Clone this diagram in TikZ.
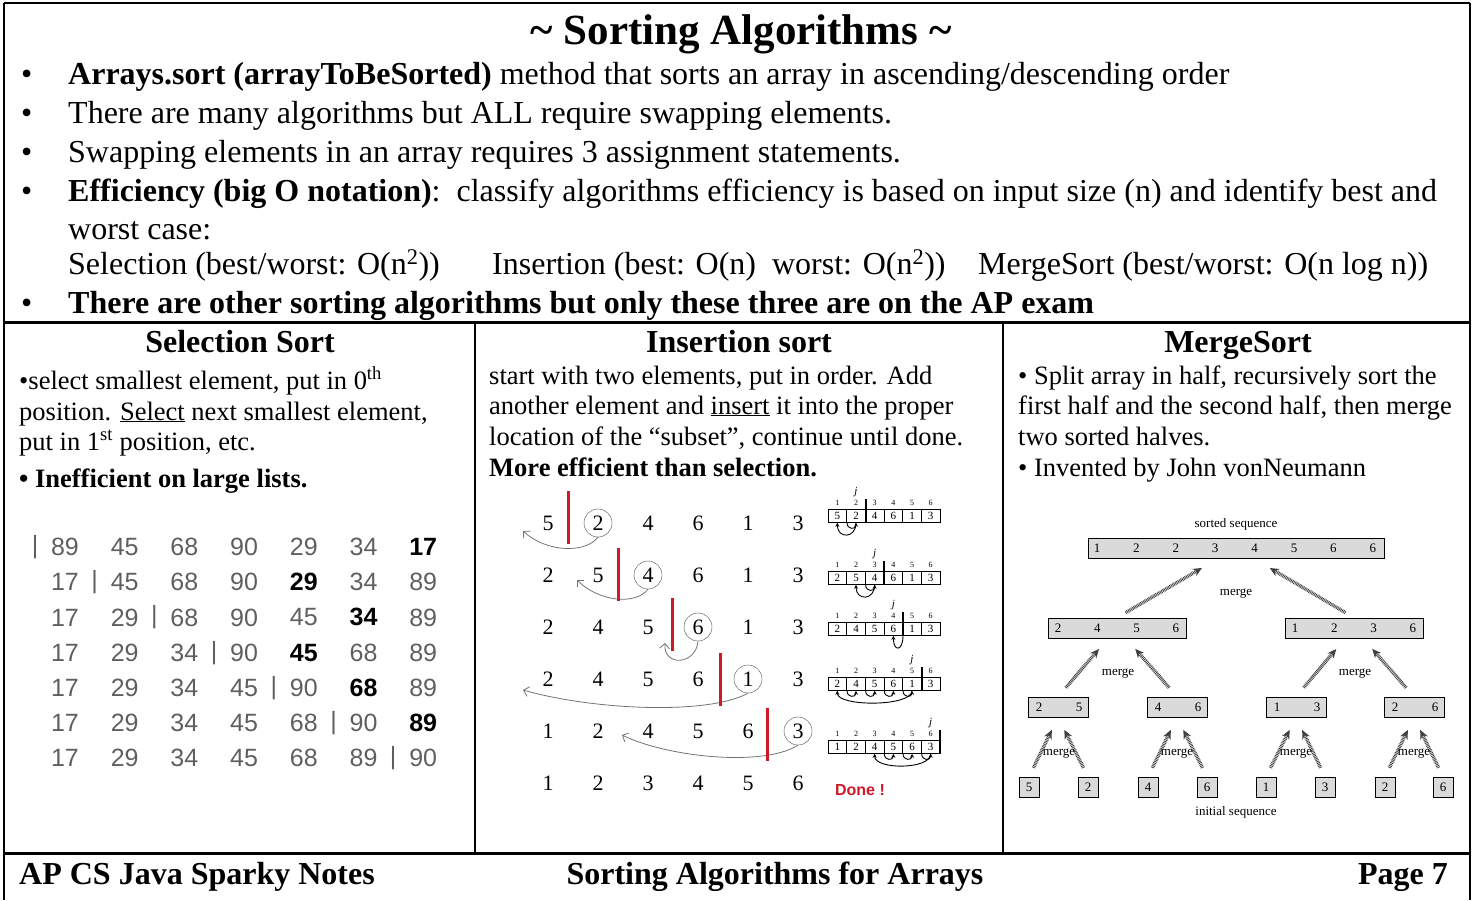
\documentclass[tikz,border=0pt]{standalone}
\usepackage{fontspec}
\setmainfont{Liberation Serif}
\setsansfont{Liberation Sans}
\usetikzlibrary{arrows.meta}

\definecolor{barred}{RGB}{205,25,40}
\definecolor{cellgray}{RGB}{218,218,218}
\definecolor{numgray}{RGB}{95,95,95}

\newcommand{\bigsize}{\fontsize{32}{38}\selectfont}
\newcommand{\colsize}{\fontsize{26.5}{31}\selectfont}

\begin{document}
\begin{tikzpicture}[x=1pt, y=-1pt,
	bodytext/.style={anchor=base west, inner sep=0pt, font=\bigsize},
	coltext/.style={anchor=base west, inner sep=0pt, font=\colsize},
	head/.style={anchor=base, inner sep=0pt, font=\bigsize\bfseries},
	selnum/.style={inner sep=0pt, text=numgray, font=\sffamily\fontsize{25}{25}\selectfont},
	insnum/.style={inner sep=0pt, font=\fontsize{22}{22}\selectfont},
	ring/.style={draw=black!70, circle, minimum size=28pt, inner sep=0pt},
	redbar/.style={barred, line width=3pt},
	insarrow/.style={black!55, line width=0.8pt, -{Straight Barb[length=5pt]}},
	cell/.style={draw, line width=0.6pt, minimum width=18.67pt, minimum height=13pt, inner sep=0pt, font=\fontsize{11}{11}\selectfont},
	idx/.style={inner sep=0pt, font=\fontsize{8}{8}\selectfont},
	cellarrow/.style={line width=0.9pt, -{Stealth[length=4pt, width=4pt]}},
	mbox/.style={draw, fill=cellgray, line width=0.6pt, minimum height=20pt, inner sep=0pt, font=\fontsize{13}{13}\selectfont},
	mnum/.style={inner sep=0pt, font=\fontsize{13}{13}\selectfont},
	mlabel/.style={inner sep=0pt, font=\fontsize{13}{13}\selectfont},
	marrow/.style={black!75, line width=3.5pt, dash pattern=on 0.8pt off 0.8pt, -{Stealth[length=9pt, width=8pt]}},
]
\useasboundingbox (0,0) rectangle (1473,900);

% frame and column rules
\draw[line width=2pt] (4,3) -- (1470,3);
\draw[line width=1.5pt] (4,3) -- (4,900) (1470,3) -- (1470,900);
\draw[line width=3pt] (4,322) -- (1470,322) (4,853) -- (1470,853);
\draw[line width=1.2pt] (475,322) -- (475,853) (1003,322) -- (1003,853);

% title and bullet list
\node[anchor=base, inner sep=0pt, font=\fontsize{43}{43}\selectfont\bfseries] (title) at (741,44) {\textasciitilde\ Sorting Algorithms \textasciitilde};
\foreach \y [count=\i] in {84,123,162,201,313}
	\node[bodytext] (dot\i) at (21,\y) {\textbullet};
\node[bodytext] (l1) at (68,84) {\textbf{Arrays.sort (arrayToBeSorted)} method that sorts an array in ascending/descending order};
\node[bodytext] (l2) at (68,123) {There are many algorithms but ALL require swapping elements.};
\node[bodytext] (l3) at (68,162) {Swapping elements in an array requires 3 assignment statements.};
\node[bodytext] (l4) at (68,201) {\textbf{Efficiency (big O notation)}:\ \ classify algorithms efficiency is based on input size (n) and identify best and};
\node[bodytext] (l5) at (68,239) {worst case:};
\node[bodytext] (eff1) at (68,274) {Selection (best/worst: O(n\textsuperscript{2}))};
\node[bodytext] (eff2) at (492,274) {Insertion (best: O(n)\ \ worst: O(n\textsuperscript{2}))};
\node[bodytext] (eff3) at (978,274) {MergeSort (best/worst: O(n log n))};
\node[bodytext] (l6) at (68,313) {\textbf{There are other sorting algorithms but only these three are on the AP exam}};

% column heads
\node[head] (selhead) at (240,352) {Selection Sort};
\node[head] (inshead) at (739,352) {Insertion sort};
\node[head] (mrghead) at (1238,352) {MergeSort};

\node[coltext] (sel1) at (19,389) {\textbullet select smallest element, put in 0\textsuperscript{th}};
\node[coltext] (sel2) at (19,420) {position. \underline{Select} next smallest element,};
\node[coltext] (sel3) at (19,450) {put in 1\textsuperscript{st} position, etc.};
\node[coltext] (sel4) at (19,487) {\textbf{\textbullet\ Inefficient on large lists.}};

\node[coltext] (ins1) at (489,384) {start with two elements, put in order. Add};
\node[coltext] (ins2) at (489,414) {another element and \underline{insert} it into the proper};
\node[coltext] (ins3) at (489,445) {location of the ``subset'', continue until done.};
\node[coltext] (ins4) at (489,476) {\textbf{More efficient than selection.}};

\node[coltext] (mrg1) at (1018,384) {\textbullet\ Split array in half, recursively sort the};
\node[coltext] (mrg2) at (1018,414) {first half and the second half, then merge};
\node[coltext] (mrg3) at (1018,445) {two sorted halves.};
\node[coltext] (mrg4) at (1018,476) {\textbullet\ Invented by John vonNeumann};

% selection sort passes
\foreach \row/\bd/\list in {1/7/{89,45,68,90,29,34,17}, 2/5/{17,45,68,90,29,34,89},
		3/6/{17,29,68,90,45,34,89}, 4/5/{17,29,34,90,45,68,89}, 5/6/{17,29,34,45,90,68,89},
		6/7/{17,29,34,45,68,90,89}, 7/0/{17,29,34,45,68,89,90}} {
	\foreach \v [count=\col] in \list {
		\ifnum\col=\bd
			\node[selnum, text=black, font=\sffamily\bfseries\fontsize{25}{25}\selectfont] (sel-\row-\col) at ({65+59.7*(\col-1)},{547+35.2*(\row-1)}) {\v};
		\else
			\node[selnum] (sel-\row-\col) at ({65+59.7*(\col-1)},{547+35.2*(\row-1)}) {\v};
		\fi
	}
	\node[selnum] (sbar-\row) at ({35+59.7*(\row-1)},{547+35.2*(\row-1)}) {|};
}

% insertion sort passes
\foreach \row/\list in {1/{5,2,4,6,1,3}, 2/{2,5,4,6,1,3}, 3/{2,4,5,6,1,3},
		4/{2,4,5,6,1,3}, 5/{1,2,4,5,6,3}, 6/{1,2,3,4,5,6}}
	\foreach \v [count=\col] in \list
		\node[insnum] (ins-\row-\col) at ({548+50*(\col-1)},{523+52*(\row-1)}) {\v};
\foreach \row/\col in {1/2, 2/3, 3/4, 4/5, 5/6}
	\node[ring] (ring-\row) at (ins-\row-\col) {};

\coordinate (tip-1) at (523,531);
\coordinate (tip-2) at (577,580);
\coordinate (tip-3) at (665,643);
\coordinate (tip-4) at (523,690);
\coordinate (tip-5) at (622,735);
\draw[insarrow] (ring-1.south) .. controls +(-12,16) and +(24,22) .. (tip-1);
\draw[insarrow] (ring-2.south) .. controls +(-12,16) and +(22,22) .. (tip-2);
\draw[insarrow] (ring-3.south) .. controls +(-2,24) and +(-2,24) .. (tip-3);
\draw[insarrow] (ring-4.south) .. controls +(-40,22) and +(70,20) .. (tip-4);
\draw[insarrow] (ring-5.south) .. controls +(-35,22) and +(45,22) .. (tip-5);

\foreach \x/\y in {568/491, 618/548, 672/598, 720/653, 767/708}
	\draw[redbar] (\x,\y) -- (\x,\y+53);

% small array pictures
\foreach \a/\y/\k/\t/\list in {1/516/2/1/{5,2,4,6,1,3}, 2/578/3/2/{2,5,4,6,1,3},
		3/629/4/4/{2,4,5,6,1,3}, 4/684/5/1/{2,4,5,6,1,3}, 5/747/6/3/{1,2,4,5,6,3}} {
	\foreach \v [count=\col] in \list {
		\node[cell] (arr\a-\col) at ({828+18.67*(\col-0.5)},\y) {\v};
		\node[idx] (idx\a-\col) at ({828+18.67*(\col-0.5)},\y-13) {\col};
	}
	\node[idx, font=\itshape\fontsize{11}{11}\selectfont] (j-\a) at ({828+18.67*(\k-0.5)},\y-24) {j};
	\draw[line width=2pt] (arr\a-\k.north east) ++(0,-10) -- (arr\a-\k.south east);
	\ifnum\t<\k
		\draw[cellarrow] (arr\a-\k.south) .. controls +(0,16) and +(0,16) .. (arr\a-\t.south);
		\pgfmathtruncatemacro\last{\k-1}
		\foreach \s in {\t,...,\last} {
			\pgfmathtruncatemacro\nx{\s+1}
			\draw[cellarrow] (arr\a-\s.south east) .. controls +(0,7) and +(0,7) .. (arr\a-\nx.south);
		}
	\else
		\draw[cellarrow] (arr\a-\k.south east) .. controls +(0,16) and +(0,16) .. (arr\a-\k.south);
	\fi
}
\node[font=\sffamily\bfseries\fontsize{16}{16}\selectfont, text=barred] (done) at (860,790) {Done !};

% merge sort tree
\node[mlabel] (sorted) at (1236,524) {sorted sequence};
\node[mbox, minimum width=296pt] (top) at (1236,548) {};
\foreach \v [count=\i] in {1,2,2,3,4,5,6,6}
	\node[mnum] (top-\i) at ({1097+39.4*(\i-1)},548) {\v};
\node[mbox, minimum width=138pt] (half-1) at (1117,628) {};
\node[mbox, minimum width=138pt] (half-2) at (1354,628) {};
\foreach \v [count=\i] in {2,4,5,6}
	\node[mnum] (halfa-\i) at ({1058+39.3*(\i-1)},628) {\v};
\foreach \v [count=\i] in {1,2,3,6}
	\node[mnum] (halfb-\i) at ({1295+39.3*(\i-1)},628) {\v};
\foreach \x/\u/\w [count=\i] in {1058/2/5, 1177/4/6, 1296/1/3, 1414/2/6} {
	\node[mbox, minimum width=60pt] (pair-\i) at (\x,707) {};
	\node[mnum] (paira-\i) at (\x-19,707) {\u};
	\node[mnum] (pairb-\i) at (\x+21,707) {\w};
}
\foreach \x/\v [count=\i] in {1029/5, 1088/2, 1148/4, 1207/6, 1266/1, 1325/3, 1385/2, 1443/6}
	\node[mbox, minimum width=20pt] (leaf-\i) at (\x,787) {\v};
\node[mlabel] (initial) at (1236,812) {initial sequence};

\draw[marrow, shorten <=10pt, shorten >=19pt] (half-1.north) -- (top);
\draw[marrow, shorten <=10pt, shorten >=19pt] (half-2.north) -- (top);
\foreach \i/\p in {1/1, 2/1, 3/2, 4/2}
	\draw[marrow, shorten <=12pt, shorten >=14pt] (pair-\i.north) -- (half-\p);
\foreach \i/\p in {1/1, 2/1, 3/2, 4/2, 5/3, 6/3, 7/4, 8/4}
	\draw[marrow, shorten <=10pt, shorten >=14pt] (leaf-\i.north) -- (pair-\p.south);
\node[mlabel] (merge-top) at (1236,594) {merge};
\node[mlabel] (merge-h1) at (1118,674) {merge};
\node[mlabel] (merge-h2) at (1355,674) {merge};
\foreach \x [count=\i] in {1059, 1177, 1296, 1414}
	\node[mlabel] (merge-p\i) at (\x,754) {merge};

% footer
\node[anchor=base west, inner sep=0pt, font=\bigsize\bfseries] (foot-l) at (19,884) {AP CS Java Sparky Notes};
\node[anchor=base, inner sep=0pt, font=\bigsize\bfseries] (foot-c) at (775,884) {Sorting Algorithms for Arrays};
\node[anchor=base east, inner sep=0pt, font=\bigsize\bfseries] (foot-r) at (1448,884) {Page 7};
\end{tikzpicture}
\end{document}
